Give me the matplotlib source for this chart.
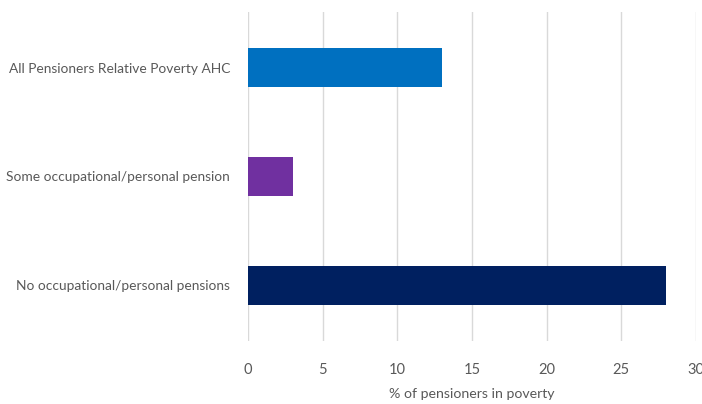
import matplotlib.pyplot as plt

categories = [
    "No occupational/personal pensions",
    "Some occupational/personal pension",
    "All Pensioners Relative Poverty AHC",
]
values = [28, 3, 13]
colors = ["#002060", "#7030A0", "#0070C0"]
x_ticks = [0, 5, 10, 15, 20, 25, 30]

plt.rcParams["font.family"] = ["Lato", "DejaVu Sans"]
text_color = "#595959"

fig = plt.figure(figsize=(7.02, 4.04), dpi=100)
ax = fig.add_axes([248 / 702, 1 - 341 / 404, 448 / 702, 329 / 404])

ax.barh(range(len(categories)), values, height=0.35, color=colors, zorder=3)

ax.set_xlim(0, 30)
ax.set_ylim(-0.51, 2.51)
ax.set_xticks(x_ticks)
ax.set_yticks(range(len(categories)))
ax.set_yticklabels(categories, fontsize=9.9, color=text_color)
ax.tick_params(axis="x", labelsize=10.5, colors=text_color, length=0, pad=16)
ax.tick_params(axis="y", length=0, pad=13)
ax.grid(axis="x", color="#D9D9D9", linewidth=1, zorder=0)
for spine in ax.spines.values():
    spine.set_visible(False)

ax.set_xlabel("% of pensioners in poverty", fontsize=10.2, color=text_color, labelpad=8)

fig.savefig("out.png", dpi=100)
